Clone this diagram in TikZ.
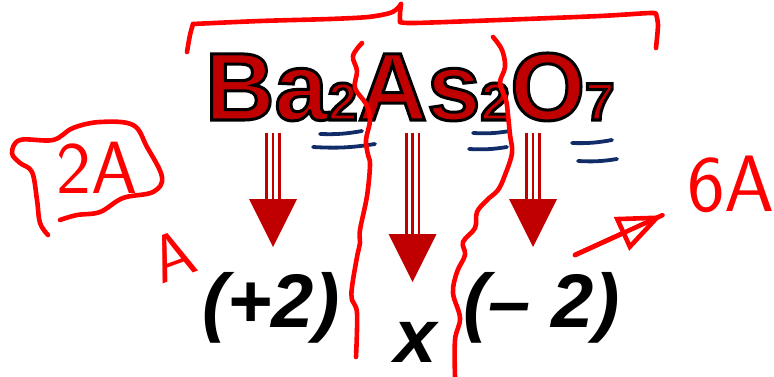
\documentclass[tikz,border=0pt]{standalone}
\usepackage{fontspec}
\setmainfont{Liberation Sans}
\usetikzlibrary{calc, positioning, arrows.meta}

\definecolor{formula}{RGB}{192,0,0}
\definecolor{marker}{RGB}{255,0,0}
\definecolor{navy}{RGB}{18,44,104}

\newcommand{\idx}[1]{{\fontsize{53}{53}\selectfont #1}}
\newcommand{\outlined}[1]{\special{pdf:literal direct 2 Tr 3 w 0 G}#1\special{pdf:literal direct 0 Tr 0.4 w}}
\newcommand{\chargearrow}[2]{%
  \foreach \dx in {-6.3,0,6.3}
    \draw[shaft] ($(#1)+(\dx,0)$) -- ($(#2)+(\dx,-46)$);
  \fill[formula] ($(#2)+(-24,-48)$) -- ($(#2)+(24,-48)$) -- (#2) -- cycle;
}

\begin{document}
\begin{tikzpicture}[x=1pt, y=-1pt,
    element/.style={inner sep=0, anchor=base west, text=formula, font=\bfseries\fontsize{96}{96}\selectfont},
    charge/.style={inner sep=0, anchor=base west, font=\bfseries\itshape\fontsize{76}{76}\selectfont},
    shaft/.style={formula, line width=2.6pt},
    pen/.style={marker, line width=4.6pt, line cap=round, line join=round},
    underline/.style={navy, line width=3.8pt, line cap=round},
    note/.style={inner sep=0, text=marker, font=\sffamily}
]
    \useasboundingbox (0,0) rectangle (774,377);

    % Formula
    \node[element] (ba) at (205,120) {\outlined{Ba\idx{2}}};
    \node[element] (as) at (ba.base east) {\outlined{As\idx{2}}};
    \node[element] (o) at (as.base east) {\outlined{O\idx{7}}};

    % Charges
    \node[charge] (plus) at (202,327) {(+2)};
    \node[charge] (times) at (394,362) {x};
    \node[charge] (minus) at (463,327) {(-- 2)};

    % Arrows
    \coordinate (from1) at (273,133);
    \coordinate (to1) at (273,247);
    \coordinate (from2) at (412.5,133);
    \coordinate (to2) at (412.5,282);
    \coordinate (from3) at (533,133);
    \coordinate (to3) at (533,247);
    \chargearrow{from1}{to1}
    \chargearrow{from2}{to2}
    \chargearrow{from3}{to3}

    % Blue marks
    \draw[underline] (320,134) to[bend right=6] (362,131);
    \draw[underline] (313,147) to[bend right=6] (375,144);
    \draw[underline] (473,133) to[bend right=6] (510,131);
    \draw[underline] (469,149) to[bend right=6] (507,147);
    \draw[underline] (572,143) to[bend right=6] (612,140);
    \draw[underline] (578,161) to[bend right=6] (617,159);

    % Bracket
    \draw[pen] plot[smooth, tension=.5] coordinates {(187,52) (190,35) (193,24)};
    \draw[pen] plot[smooth, tension=.5] coordinates {(193,24) (260,21) (330,19) (368,17) (390,13) (398,8) (401,4)};
    \draw[pen] plot[smooth, tension=.5] coordinates {(401,4) (400,14) (400,22)};
    \draw[pen] plot[smooth, tension=.5] coordinates {(400,22) (415,23) (500,20) (600,16) (650,13) (656,14)};
    \draw[pen] plot[smooth, tension=.5] coordinates {(656,14) (658,25) (656,48)};

    % Dividers
    \draw[pen] plot[smooth, tension=.6] coordinates {(362,43) (353,56) (357,71) (355,88) (366,104) (370,120) (366,140) (368,155) (370,165) (367,196) (360,230) (360,243) (357,257) (352,287) (352,300) (357,313) (356,357)};
    \draw[pen] plot[smooth, tension=.6] coordinates {(493,37) (502,50) (505,67) (500,83) (506,100) (508,115) (510,135) (512,153) (505,175) (498,190) (487,200) (477,212) (475,228) (463,242) (465,255) (457,272) (453,293) (460,318) (455,340) (455,377)};

    % Notes
    \node[note, font=\sffamily\fontsize{74}{74}\selectfont] (twoA) at (97,168) {2A};
    \draw[pen] plot[smooth, tension=.6] coordinates {(60,220) (77,215) (100,212) (123,198) (153,192) (162,177) (147,147) (133,125) (100,122) (73,128) (53,140) (20,140) (12,153) (20,163) (32,172) (37,200) (40,223) (48,235)};
    \node[note, rotate=20, font=\sffamily\fontsize{66}{66}\selectfont] (singleA) at (173,256) {A};
    \node[note, font=\sffamily\fontsize{80}{80}\selectfont] (sixA) at (731,184) {6A};
    \coordinate (pointer) at (575,255);
    \draw[pen, shorten >=27pt] (pointer) -- (sixA);
    \draw[pen, -{Triangle[open, length=45pt, width=36pt]}, shorten >=27pt] (pointer) -- (sixA);
\end{tikzpicture}
\end{document}
